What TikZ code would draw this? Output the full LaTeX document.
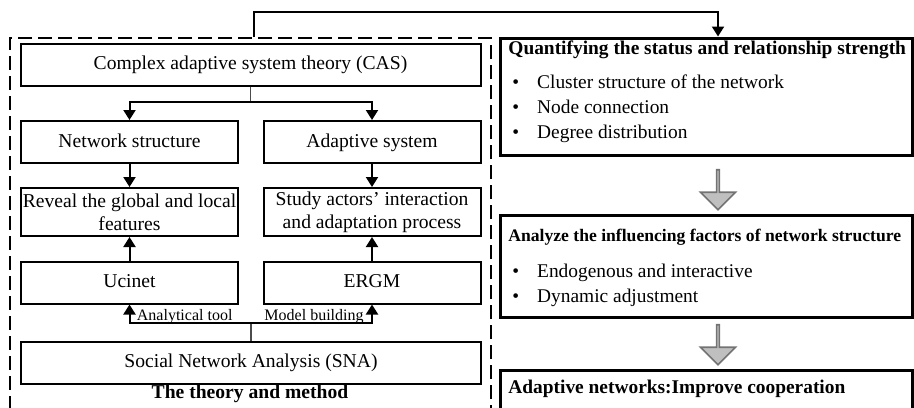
\documentclass[tikz,border=0pt]{standalone}
\usepackage{fontspec}
\setmainfont{Liberation Serif}
\usetikzlibrary{arrows.meta,positioning,calc,shapes.arrows}

\begin{document}
\begin{tikzpicture}[x=0.5pt,y=-0.5pt,
  box/.style={draw=black,line width=1pt,minimum width=108.5pt,minimum height=21pt,inner sep=1pt,align=center,font=\fontsize{9.8}{11.5}\selectfont},
  one/.style={text height=7pt,text depth=2pt},
  wide/.style={box,one,minimum width=230pt},
  bigbox/.style={draw=black,line width=1.5pt,minimum width=206pt},
  hdr/.style={anchor=west,inner sep=0pt,font=\fontsize{9.7}{11.6}\selectfont\bfseries},
  items/.style={anchor=west,inner sep=0pt,align=left,font=\fontsize{9.7}{12.6}\selectfont},
  lab/.style={inner sep=0pt,font=\fontsize{8}{9.6}\selectfont},
  arr/.style={-{Triangle[length=5pt,width=6pt]},line width=1pt},
  stem/.style={line width=0.6pt,black!70},
  down/.style={single arrow,shape border rotate=270,draw=black!55,fill=black!25,line width=0.8pt,minimum height=20pt,minimum width=17.5pt,single arrow head extend=4.5pt,inner sep=0pt},
  frame/.style={draw=black,line width=1pt,dash pattern=on 7pt off 3pt}]
\clip (0,0) rectangle (914,407);
% theory and method
\node[frame,minimum width=240.5pt,minimum height=200pt] (frm) at (250.5,238) {};
\node[wide] (cas) at (250.5,64.5) {Complex adaptive system theory (CAS)};
\node[box,one] (net) at (129.5,142) {Network structure};
\node[box,one] (ada) at (372,142) {Adaptive system};
\node[box,minimum height=24pt] (rev) at (129.5,212) {Reveal the global and local\\features};
\node[box,minimum height=24pt] (stu) at (372,212) {Study actors' interaction\\and adaptation process};
\node[box,one] (uci) at (129.5,282.5) {Ucinet};
\node[box,one] (erg) at (372,282.5) {ERGM};
\node[wide] (sna) at (251,362.5) {Social Network Analysis (SNA)};
\node[font=\fontsize{9.8}{11.5}\selectfont\bfseries,inner sep=0pt] (ttl) at (250,394) {The theory and method};
\draw[stem] (cas.south) -- ++(0,15) coordinate (j1);
\draw[arr] (j1) -| (net.north);
\draw[arr] (j1) -| (ada.north);
\draw[arr] (net) -- (rev);
\draw[arr] (ada) -- (stu);
\draw[arr] (uci) -- (rev);
\draw[arr] (erg) -- (stu);
\draw[stem] (sna.north) -- ++(0,-18) coordinate (j2);
\draw[arr] (j2) -| (uci.south);
\draw[arr] (j2) -| (erg.south);
\node[lab,anchor=west] (atool) at ($(uci.south)+(7,12)$) {Analytical tool};
\node[lab,anchor=east] (mbld) at ($(erg.south)+(-8,12)$) {Model building};
% results
\node[bigbox,minimum height=58.5pt] (quant) at (706,96.5) {};
\node[hdr] (qh) at (508,50) {Quantifying the status and relationship strength};
\node[items] (qi) at (512,109) {\textbullet\hspace{9pt}Cluster structure of the network\\ \textbullet\hspace{9pt}Node connection\\ \textbullet\hspace{9pt}Degree distribution};
\node[down] (g1) at (718,189) {};
\node[bigbox,minimum height=51pt] (anal) at (706,266) {};
\node[hdr,font=\fontsize{8.8}{10.6}\selectfont\bfseries] (ah) at (508,237) {Analyze the influencing factors of network structure};
\node[items] (ai) at (512,285) {\textbullet\hspace{9pt}Endogenous and interactive\\ \textbullet\hspace{9pt}Dynamic adjustment};
\node[down] (g2) at (718,344) {};
\node[bigbox,minimum height=40pt] (adap) at (706,410) {};
\node[hdr] (dh) at (508,389) {Adaptive networks:Improve cooperation};
\draw[arr] ($(frm.north)+(3,0)$) -- ++(0,-25) -| ($(quant.north)+(12,0)$);
\end{tikzpicture}
\end{document}
